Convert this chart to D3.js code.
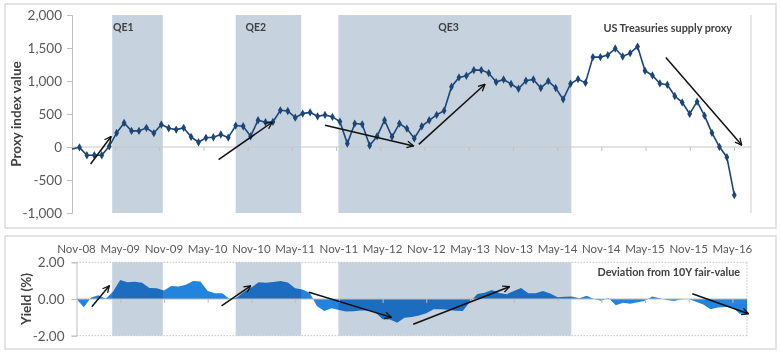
<!DOCTYPE html>
<html lang="en">
<head>
    <meta charset="UTF-8">
    <title>US Treasuries supply proxy</title>
    <script src="https://d3js.org/d3.v7.min.js"></script>
    <style>
        body {
            margin: 0;
            background: white;
        }
        text {
            font-family: Lato, "Open Sans", sans-serif;
        }
        .tick-label {
            fill: #595959;
        }
        .title {
            fill: #404040;
            font-weight: bold;
        }
    </style>
</head>
<body>
<script>
    // month labels, every 6 months from Nov-08
    const xLabels = ["Nov-08", "May-09", "Nov-09", "May-10", "Nov-10", "May-11", "Nov-11", "May-12",
        "Nov-12", "May-13", "Nov-13", "May-14", "Nov-14", "May-15", "Nov-15", "May-16"];
    const xLabelMonths = [0, 6, 12, 18, 24, 30, 36, 42, 48, 54, 60, 66, 72, 78, 84, 90];

    // top panel: US Treasuries supply proxy, monthly
    const supplyProxy = [-30, -5, -125, -125, -125, 10, 214, 365, 244, 244,
        290, 209, 340, 284, 264, 290, 154, 72, 139, 148,
        189, 143, 325, 314, 163, 405, 375, 380, 556, 546,
        445, 506, 525, 465, 486, 456, 385, 53, 355, 344,
        23, 163, 405, 154, 355, 279, 130, 314, 405, 486,
        551, 913, 1054, 1079, 1165, 1165, 1120, 984, 1023, 954,
        883, 1004, 1023, 894, 999, 894, 722, 958, 1029, 972,
        1362, 1362, 1392, 1492, 1371, 1422, 1522, 1155, 1084, 963,
        943, 773, 676, 501, 687, 475, 214, 3, -154, -728];
    const proxyTicks = [-1000, -500, 0, 500, 1000, 1500, 2000];

    // bottom panel: deviation from 10Y fair-value (%), monthly from Nov-08
    const deviation = [0.00, -0.45, 0.08, 0.20, 0.02, 0.40, 1.04, 0.91, 0.94, 0.88,
        0.60, 0.58, 0.46, 0.71, 0.68, 0.77, 0.98, 0.96, 0.43, 0.31,
        0.31, 0.00, 0.08, 0.40, 0.63, 0.91, 0.89, 0.93, 0.98, 0.90,
        0.58, 0.52, 0.34, -0.40, -0.65, -0.51, -0.60, -0.68, -0.67, -0.62,
        -0.63, -0.72, -1.11, -1.12, -1.29, -1.02, -0.98, -0.90, -0.78, -0.56,
        -0.56, -0.59, -0.64, -0.65, -0.15, 0.27, 0.34, 0.49, 0.33, 0.26,
        0.44, 0.60, 0.31, 0.31, 0.44, 0.30, 0.10, 0.12, 0.13, 0.04,
        0.18, 0.00, -0.09, 0.06, -0.34, -0.20, -0.26, -0.18, -0.10, 0.13,
        0.04, -0.05, -0.11, -0.02, 0.00, -0.15, -0.30, -0.56, -0.46, -0.44,
        -0.43, -0.80, -0.80];
    const yieldTicks = [-2, 0, 2];

    // QE periods (in top panel month index)
    const qeNames = ["QE1", "QE2", "QE3"];
    const qeStart = [5.4, 22, 35.8];
    const qeEnd = [12.2, 30.8, 67.1];
    const qeLabelAt = [6.9, 24.7, 50.6];

    // trend arrows [x0, y0, x1, y1] in data units
    const topArrows = [[2.5, -258, 5.25, 160], [19.7, -190, 26.9, 375], [34, 330, 45.9, 15],
        [46.6, 40, 55.5, 950], [79.8, 1355, 90, 30]];
    const bottomArrows = [[2.1, -0.42, 4.5, 0.72], [19.9, -0.37, 23.9, 0.72], [31.9, 0.37, 43.2, -1.0],
        [46.2, -1.38, 59.4, 0.67], [84.5, 0.29, 92.2, -0.8]];

    var svg = d3.select("body").append("svg")
        .attr("width", 780)
        .attr("height", 354)
        .style("display", "block");

    svg.append("defs").append("marker")
        .attr("id", "arrowHead")
        .attr("viewBox", "0 0 10 10")
        .attr("refX", 9)
        .attr("refY", 5)
        .attr("markerWidth", 5.5)
        .attr("markerHeight", 5.5)
        .attr("orient", "auto")
        .append("path")
        .attr("d", "M1,1 L9,5 L1,9")
        .attr("fill", "none")
        .attr("stroke", "#111")
        .attr("stroke-width", 1.6);

    // panel frames
    svg.append("rect").attr("x", 5).attr("y", 4).attr("width", 771).attr("height", 224)
        .attr("fill", "white").attr("stroke", "#dadada").attr("stroke-width", 1.5);
    svg.append("rect").attr("x", 5).attr("y", 236).attr("width", 771).attr("height", 113)
        .attr("fill", "white").attr("stroke", "#dadada").attr("stroke-width", 1.5);

    // scales
    const topX = d3.scaleLinear().domain([0, supplyProxy.length - 1]).range([72, 734.3]);
    const topTickX = d3.scaleLinear().domain([0, 90]).range([70.8, 734]);
    const topY = d3.scaleLinear().domain([-1000, 2000]).range([213, 15]);
    const botX = d3.scaleLinear().domain([0, 92]).range([76.5, 747]);
    const botY = d3.scaleLinear().domain([-2, 2]).range([335.7, 262.3]);

    const topLeft = 72, topRight = 751;
    const botLeft = 76.5, botRight = 747;

    // ---------- top panel ----------
    let topPanel = svg.append("g").attr("id", "topPanel");

    topPanel.selectAll("rect.qe").data(qeNames).join("rect")
        .attr("class", "qe")
        .attr("x", (d, i) => topX(qeStart[i]))
        .attr("width", (d, i) => topX(qeEnd[i]) - topX(qeStart[i]))
        .attr("y", topY(2000))
        .attr("height", topY(-1000) - topY(2000))
        .attr("fill", "#c6d2dd");

    topPanel.selectAll("text.qe").data(qeNames).join("text")
        .attr("class", "title")
        .attr("x", (d, i) => topX(qeLabelAt[i]))
        .attr("y", 27)
        .attr("dy", "0.35em")
        .attr("text-anchor", "middle")
        .attr("font-size", 10.5)
        .text(d => d);

    // y axis
    let leftAxis = d3.axisLeft(topY).tickValues(proxyTicks).tickSize(5);
    let gy = topPanel.append("g").attr("transform", "translate(" + topLeft + ",0)").call(leftAxis);
    gy.select(".domain").attr("stroke", "#bfbfbf");
    gy.selectAll(".tick line").attr("stroke", "#bfbfbf");
    gy.selectAll(".tick text").attr("class", "tick-label").attr("font-size", 13.5)
        .attr("font-family", "Lato, sans-serif").attr("x", -10)
        .text(d => d3.format(",")(d).replace("−", "-"));

    topPanel.append("line")
        .attr("x1", topRight).attr("x2", topRight)
        .attr("y1", topY(2000)).attr("y2", topY(-1000))
        .attr("stroke", "#cfcfcf");

    // zero line with ticks
    let zeroAxis = d3.axisBottom(topTickX).tickValues(xLabelMonths.slice(1)).tickSize(4).tickFormat("");
    let gz = topPanel.append("g").attr("transform", "translate(0," + topY(0) + ")").call(zeroAxis);
    gz.select(".domain").remove();
    gz.selectAll(".tick line").attr("stroke", "#bfbfbf");
    topPanel.append("line")
        .attr("x1", topLeft).attr("x2", topRight)
        .attr("y1", topY(0)).attr("y2", topY(0))
        .attr("stroke", "#c8c8c8").attr("stroke-width", 1.2);

    topPanel.append("path")
        .datum(supplyProxy)
        .attr("fill", "none")
        .attr("stroke", "#1b4677")
        .attr("stroke-width", 1.6)
        .attr("d", d3.line().x((d, i) => topX(i)).y(d => topY(d)));

    topPanel.selectAll("path.pt").data(supplyProxy.slice(1)).join("path")
        .attr("class", "pt")
        .attr("transform", (d, i) => "translate(" + topX(i + 1) + "," + topY(d) + ")")
        .attr("d", d3.symbol().type(d3.symbolDiamond).size(20))
        .attr("fill", "#1b4677");

    topPanel.selectAll("line.arrow").data(topArrows).join("line")
        .attr("class", "arrow")
        .attr("x1", d => topX(d[0])).attr("y1", d => topY(d[1]))
        .attr("x2", d => topX(d[2])).attr("y2", d => topY(d[3]))
        .attr("stroke", "#111")
        .attr("stroke-width", 1.5)
        .attr("marker-end", "url(#arrowHead)");

    topPanel.append("text")
        .attr("class", "title")
        .attr("x", 732)
        .attr("y", 28)
        .attr("dy", "0.35em")
        .attr("text-anchor", "end")
        .attr("font-size", 10.8)
        .text("US Treasuries supply proxy");

    topPanel.append("text")
        .attr("class", "title")
        .attr("transform", "translate(16," + topY(500) + ") rotate(-90)")
        .attr("dy", "0.35em")
        .attr("text-anchor", "middle")
        .attr("font-size", 13.5)
        .text("Proxy index value");

    // ---------- bottom panel ----------
    let botPanel = svg.append("g").attr("id", "botPanel");

    botPanel.selectAll("text.xlabel").data(xLabels).join("text")
        .attr("class", "tick-label")
        .attr("x", (d, i) => botX(xLabelMonths[i]))
        .attr("y", 248.5)
        .attr("dy", "0.35em")
        .attr("text-anchor", "middle")
        .attr("font-size", 11.5)
        .text(d => d);

    botPanel.selectAll("rect.qe").data(qeNames).join("rect")
        .attr("class", "qe")
        .attr("x", (d, i) => topX(qeStart[i]))
        .attr("width", (d, i) => topX(qeEnd[i]) - topX(qeStart[i]))
        .attr("y", botY(2))
        .attr("height", botY(-2) - botY(2))
        .attr("fill", "#c6d2dd");

    // dotted frame
    [2, -2].forEach(v => {
        botPanel.append("line")
            .attr("x1", botLeft).attr("x2", botRight)
            .attr("y1", botY(v)).attr("y2", botY(v))
            .attr("stroke", "#c4c4c4").attr("stroke-dasharray", "1.5,1.5");
    });
    botPanel.append("line")
        .attr("x1", botRight).attr("x2", botRight)
        .attr("y1", botY(2)).attr("y2", botY(-2))
        .attr("stroke", "#c4c4c4").attr("stroke-dasharray", "1.5,1.5");

    botPanel.append("path")
        .datum(deviation)
        .attr("fill", "#2384de")
        .style("mix-blend-mode", "multiply")
        .attr("d", d3.area().x((d, i) => botX(i)).y0(botY(0)).y1(d => botY(d)));

    let botAxis = d3.axisLeft(botY).tickValues(yieldTicks).tickSize(5);
    let gby = botPanel.append("g").attr("transform", "translate(" + botLeft + ",0)").call(botAxis);
    gby.select(".domain").attr("stroke", "#bfbfbf");
    gby.selectAll(".tick line").attr("stroke", "#bfbfbf");
    gby.selectAll(".tick text").attr("class", "tick-label").attr("font-size", 13.5)
        .attr("font-family", "Lato, sans-serif").attr("x", -12)
        .text(d => d3.format(".2f")(d).replace("−", "-"));

    let bzAxis = d3.axisBottom(botX).tickValues(xLabelMonths.slice(1)).tickSize(4).tickFormat("");
    let gbz = botPanel.append("g").attr("transform", "translate(0," + botY(0) + ")").call(bzAxis);
    gbz.select(".domain").remove();
    gbz.selectAll(".tick line").attr("stroke", "#bfbfbf");
    botPanel.append("line")
        .attr("x1", botLeft).attr("x2", botRight)
        .attr("y1", botY(0)).attr("y2", botY(0))
        .attr("stroke", "#bdbdbd").attr("stroke-width", 1);

    botPanel.selectAll("line.arrow").data(bottomArrows).join("line")
        .attr("class", "arrow")
        .attr("x1", d => botX(d[0])).attr("y1", d => botY(d[1]))
        .attr("x2", d => botX(d[2])).attr("y2", d => botY(d[3]))
        .attr("stroke", "#111")
        .attr("stroke-width", 1.5)
        .attr("marker-end", "url(#arrowHead)");

    botPanel.append("text")
        .attr("class", "title")
        .attr("x", 740)
        .attr("y", 272)
        .attr("dy", "0.35em")
        .attr("text-anchor", "end")
        .attr("font-size", 10.8)
        .text("Deviation from 10Y fair-value");

    botPanel.append("text")
        .attr("class", "title")
        .attr("transform", "translate(26," + botY(0) + ") rotate(-90)")
        .attr("dy", "0.35em")
        .attr("text-anchor", "middle")
        .attr("font-size", 13.5)
        .text("Yield (%)");
</script>
</body>
</html>
